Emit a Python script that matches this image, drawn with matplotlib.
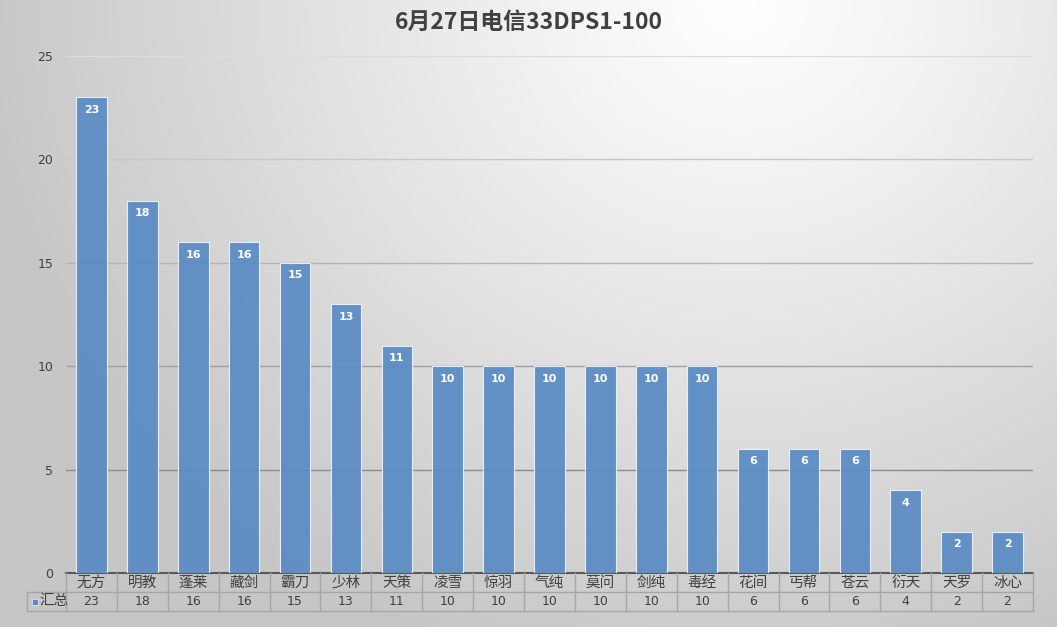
import matplotlib
matplotlib.use("Agg")
import matplotlib.pyplot as plt
import numpy as np
from matplotlib.transforms import blended_transform_factory
from matplotlib.lines import Line2D
from matplotlib.patches import Rectangle

plt.rcParams['font.family'] = ['Noto Sans CJK SC', 'DejaVu Sans']

categories = ["无方", "明教", "蓬莱", "藏剑", "霸刀", "少林", "天策", "凌雪", "惊羽", "气纯",
              "莫问", "剑纯", "毒经", "花间", "丐帮", "苍云", "衍天", "天罗", "冰心"]
values = [23, 18, 16, 16, 15, 13, 11, 10, 10, 10, 10, 10, 10, 6, 6, 6, 4, 2, 2]
series_name = "汇总"
title = "6月27日电信33DPS1-100"
yticks = [0, 5, 10, 15, 20, 25]
grid_colors = ['#8c8c8c', '#a0a0a0', '#b4b4b4', '#c8c8c8', '#dcdcdc']

W, H = 1057, 627
fig = plt.figure(figsize=(W / 100, H / 100), dpi=100)

# radial gradient background (white near top right, grey toward left/bottom)
bg = fig.add_axes([0, 0, 1, 1], zorder=-10)
yy, xx = np.mgrid[0:1:300j, 0:1:400j]
d = np.sqrt(((xx - 0.7) / 0.72) ** 2 + (yy / 1.1) ** 2)
g = 1.0 - 0.22 * np.clip(d, 0, 1) ** 1.1
img = np.dstack([g, g, g])
bg.imshow(img, aspect='auto', extent=[0, 1, 0, 1], origin='upper')
bg.axis('off')

left, right, top, bottom = 66, 1033, 56, 573
ax = fig.add_axes([left / W, 1 - bottom / H, (right - left) / W, (bottom - top) / H])
ax.patch.set_alpha(0)
n = len(categories)
x = np.arange(n)
ax.set_xlim(-0.5, n - 0.5)
ax.set_ylim(0, 25)
ax.set_yticks(yticks)
ax.tick_params(axis='y', length=0, labelsize=9, colors='#404040', pad=9)
for lab in ax.get_yticklabels():
    lab.set_family('DejaVu Sans')
ax.set_xticks([])
for s in ['top', 'right', 'left']:
    ax.spines[s].set_visible(False)
ax.spines['bottom'].set_color('#595959')
ax.spines['bottom'].set_linewidth(1.5)
for yv, gc in zip(yticks[1:], grid_colors):
    ax.axhline(yv, color=gc, linewidth=1.0, zorder=1)

ax.bar(x, values, width=0.6, color='#5a8bc4', alpha=0.93, edgecolor='#eef3fa',
       linewidth=0.8, zorder=3)
for xi, v in zip(x, values):
    ax.text(xi, v - 0.6, str(v), ha='center', va='center', color='white',
            fontsize=8, fontweight='bold', zorder=4, family='DejaVu Sans')

fig.text(0.5, 1 - 22 / H, title, ha='center', va='center', fontsize=16.5,
         fontweight='bold', color='#404040')

# data table
tr = blended_transform_factory(ax.transData, fig.transFigure)
y0 = 1 - 573 / H
y1 = 1 - 592 / H
y2 = 1 - 611 / H
lc = '#a6a6a6'
for xb in np.arange(n + 1) - 0.5:
    fig.add_artist(Line2D([xb, xb], [y0, y2], transform=tr, color=lc, lw=1))
fig.add_artist(Line2D([-0.5, n - 0.5], [y1, y1], transform=tr, color=lc, lw=1))
fig.add_artist(Line2D([-0.5, n - 0.5], [y2, y2], transform=tr, color=lc, lw=1))
# legend cell
lx = 27 / W
fig.add_artist(Line2D([lx, left / W], [y1, y1], transform=fig.transFigure, color=lc, lw=1))
fig.add_artist(Line2D([lx, left / W], [y2, y2], transform=fig.transFigure, color=lc, lw=1))
fig.add_artist(Line2D([lx, lx], [y1, y2], transform=fig.transFigure, color=lc, lw=1))
fig.add_artist(Rectangle((32 / W, 1 - 605 / H), 6 / W, 6 / H, transform=fig.transFigure,
                         facecolor='#5a8bc4', edgecolor='#e8eef7', lw=0.5))
fig.text(39 / W, (y1 + y2) / 2, series_name, ha='left', va='center', fontsize=10.5, color='#404040')

for xi, c, v in zip(x, categories, values):
    fig.text(xi, (y0 + y1) / 2, c, transform=tr, ha='center', va='center', fontsize=10.5, color='#404040')
    fig.text(xi, (y1 + y2) / 2, str(v), transform=tr, ha='center', va='center', fontsize=9,
             color='#404040', family='DejaVu Sans')

fig.savefig('out.png', dpi=100)
